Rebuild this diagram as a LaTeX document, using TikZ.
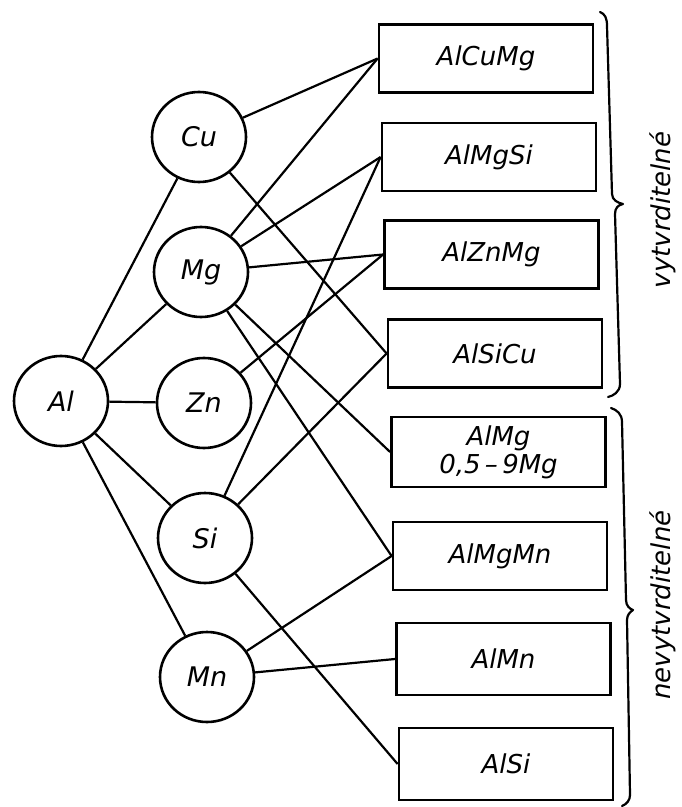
\documentclass[tikz,border=0pt]{standalone}
\usepackage{fontspec}
\setmainfont{DejaVu Sans}
\usetikzlibrary{shapes.geometric}
\begin{document}
\begin{tikzpicture}[x=0.5pt,y=-0.5pt,
  element/.style={ellipse, draw, line width=1.3pt, minimum width=47pt,
    minimum height=45pt, inner sep=0pt, font=\fontsize{13.5}{15}\selectfont\itshape},
  alloy/.style={rectangle, draw, line width=1.4pt, minimum width=107pt,
    minimum height=34pt, inner sep=0pt, align=center,
    font=\fontsize{13}{14}\selectfont\itshape},
  link/.style={line width=1.1pt},
  grouplabel/.style={rotate=90, font=\fontsize{13}{15}\selectfont\itshape},
  bracket/.style={line width=1.1pt, line join=round, line cap=round}]
\useasboundingbox (0,0) rectangle (681,807);
\fill[white] (0,0) rectangle (681,807);

% base metal and alloying elements
\node[element] (al) at (61,401) {Al};
\node[element] (cu) at (199,137) {Cu};
\node[element] (mg) at (201,272) {Mg};
\node[element] (zn) at (204,403) {Zn};
\node[element] (si) at (205,538) {Si};
\node[element] (mn) at (207,677) {Mn};

% alloy systems
\node[alloy] (b1) at (486,58.5) {AlCuMg};
\node[alloy] (b2) at (489,157) {AlMgSi};
\node[alloy] (b3) at (491.5,254.5) {AlZnMg};
\node[alloy] (b4) at (495,353.5) {AlSiCu};
\node[alloy, minimum height=35pt] (b5) at (498.5,452) {AlMg\\0,5\,–\,9Mg};
\node[alloy] (b6) at (500,556) {AlMgMn};
\node[alloy, minimum height=36pt] (b7) at (503.5,659) {AlMn};
\node[alloy, minimum height=36pt] (b8) at (506,764) {AlSi};

% aluminium to each element
\draw[link] (al) -- (cu);
\draw[link] (al) -- (mg);
\draw[link] (al) -- (zn);
\draw[link] (al) -- (si);
\draw[link] (al) -- (mn);

% elements to alloy systems
\draw[link] (cu) -- (b1.west);
\draw[link] (cu) -- (b4.west);
\draw[link] (mg) -- (b1.west);
\draw[link] (mg) -- (b2.west);
\draw[link] (mg) -- (b3.west);
\draw[link] (mg) -- (b5.west);
\draw[link] (mg) -- (b6.west);
\draw[link] (zn) -- (b3.west);
\draw[link] (si) -- (b2.west);
\draw[link] (si) -- (b4.west);
\draw[link] (si) -- (b8.west);
\draw[link] (mn) -- (b6.west);
\draw[link] (mn) -- (b7.west);

% group braces
\draw[bracket] (600,12) .. controls (605,14) and (607,18) .. (607,26)
  -- (612,194) .. controls (612,200) and (618,203) .. (623,204)
  .. controls (618,205) and (615,208) .. (615,214)
  -- (620,384) .. controls (620,392) and (613,396) .. (608,397);
\draw[bracket] (611,408) .. controls (617,410) and (622,414) .. (622,422)
  -- (626,600) .. controls (626,606) and (630,609) .. (633,610)
  .. controls (630,612) and (627,615) .. (627,620)
  -- (630,795) .. controls (630,800) and (627,804) .. (622,806);

\node[grouplabel] (hard) at (663,210) {vytvrditelné};
\node[grouplabel] (nonhard) at (663,605) {nevytvrditelné};
\end{tikzpicture}
\end{document}
